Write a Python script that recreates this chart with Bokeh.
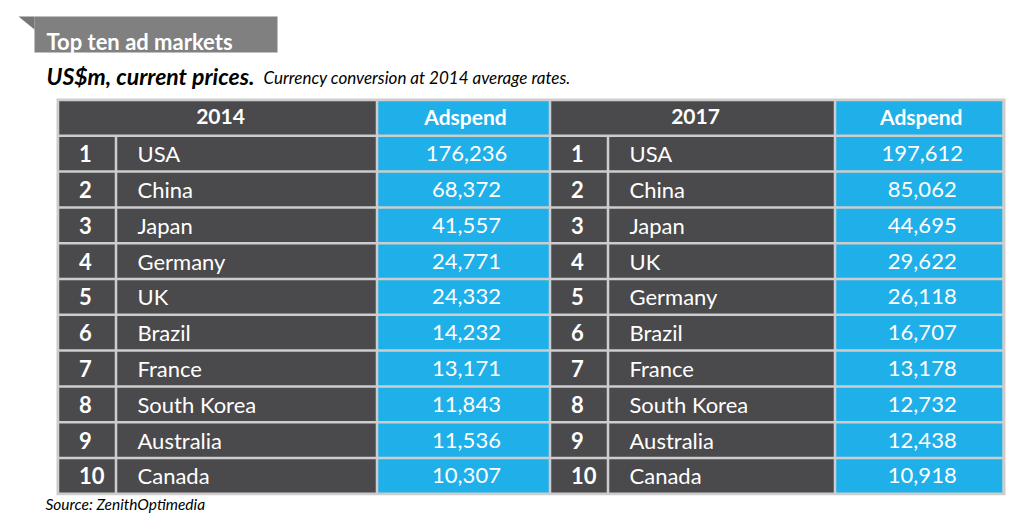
from bokeh.plotting import figure
from bokeh.models import Range1d, ColumnDataSource
from bokeh.core.properties import value
from bokeh.embed import file_html
from bokeh.resources import INLINE

# ---- data ----
title = "Top ten ad markets"
subtitle_bold = "US$m, current prices."
subtitle_note = "Currency conversion at 2014 average rates."
source_note = "Source: ZenithOptimedia"
years = ["2014", "2017"]
value_header = "Adspend"
ranks = [1, 2, 3, 4, 5, 6, 7, 8, 9, 10]
countries_2014 = ["USA", "China", "Japan", "Germany", "UK", "Brazil", "France",
                  "South Korea", "Australia", "Canada"]
adspend_2014 = [176236, 68372, 41557, 24771, 24332, 14232, 13171, 11843, 11536, 10307]
countries_2017 = ["USA", "China", "Japan", "UK", "Germany", "Brazil", "France",
                  "South Korea", "Australia", "Canada"]
adspend_2017 = [197612, 85062, 44695, 29622, 26118, 16707, 13178, 12732, 12438, 10918]

# ---- styling / layout ----
FONT = value("Lato")
DARK = "#4a494b"
BLUE = "#1fafe9"
GRID = "#cdcdcd"
W, H = 1008, 514

p = figure(width=W, height=H, output_backend="svg", toolbar_location=None,
           x_range=Range1d(0, W), y_range=Range1d(H, 0),
           x_axis_location=None, y_axis_location=None, min_border=0)
p.xgrid.visible = False
p.ygrid.visible = False
p.outline_line_color = None
p.background_fill_color = "white"
p.border_fill_color = "white"

# title box with folded corner
p.quad(left=[34], right=[277], top=[16], bottom=[52], fill_color="#808080", line_color=None)
p.patch(x=[18, 34, 34], y=[16, 16, 29], fill_color="#767676", line_color=None)
p.text(x=[46], y=[40.5], text=[title], text_font=FONT, text_font_size=value("22px"),
       text_font_style="bold", text_color="white", text_baseline="middle")
p.text(x=[46], y=[75], text=[subtitle_bold], text_font=FONT, text_font_size=value("23px"),
       text_font_style="bold italic", text_color="black", text_baseline="middle")
p.text(x=[263], y=[77], text=[subtitle_note], text_font=FONT, text_font_size=value("17px"),
       text_font_style="italic", text_color="black", text_baseline="middle")
p.text(x=[45], y=[503], text=[source_note], text_font=FONT, text_font_size=value("15.5px"),
       text_font_style="italic", text_color="black", text_baseline="middle")

# table geometry
top0 = 99.5
row_h = 35.8
n = len(ranks)
table_bottom = top0 + row_h * (n + 1)
# column boundaries per block: rank | country | adspend
blocks = [(57.5, 115.5, 376.5, 549.5), (549.5, 607.5, 834.5, 1003.0)]
g = 1.25  # half gap

# light gray background (gridlines)
p.quad(left=[56], right=[1005], top=[98], bottom=[table_bottom + 1.5],
       fill_color=GRID, line_color=None)

datasets = [(countries_2014, adspend_2014), (countries_2017, adspend_2017)]
for bi, ((x0, x1, x2, x3), (ctry, vals)) in enumerate(zip(blocks, datasets)):
    # header cells
    p.quad(left=[x0 + g], right=[x2 - g], top=[top0 + g], bottom=[top0 + row_h - g],
           fill_color=DARK, line_color=None)
    p.quad(left=[x2 + g], right=[x3 - g], top=[top0 + g], bottom=[top0 + row_h - g],
           fill_color=BLUE, line_color=None)
    hy = top0 + row_h / 2 - 1
    p.text(x=[(x0 + x2) / 2 + 3], y=[hy], text=[years[bi]], text_font=FONT,
           text_font_size=value("21px"), text_font_style="bold", text_color="white",
           text_align="center", text_baseline="middle")
    p.text(x=[(x2 + x3) / 2 + 2], y=[hy], text=[value_header], text_font=FONT,
           text_font_size=value("21px"), text_font_style="bold", text_color="white",
           text_align="center", text_baseline="middle")

    tops = [top0 + row_h * r for r in ranks]
    src = ColumnDataSource(dict(
        top=[t + g for t in tops],
        bottom=[t + row_h - g for t in tops],
        ymid=[t + row_h / 2 for t in tops],
        rank=[str(r) for r in ranks],
        country=ctry,
        val=[f"{v:,}" for v in vals],
    ))
    p.quad(left=x0 + g, right=x1 - g, top="top", bottom="bottom", source=src,
           fill_color=DARK, line_color=None)
    p.quad(left=x1 + g, right=x2 - g, top="top", bottom="bottom", source=src,
           fill_color=DARK, line_color=None)
    p.quad(left=x2 + g, right=x3 - g, top="top", bottom="bottom", source=src,
           fill_color=BLUE, line_color=None)
    p.text(x=x0 + 21, y="ymid", text="rank", source=src, text_font=FONT,
           text_font_size=value("22px"), text_font_style="bold", text_color="white",
           text_baseline="middle")
    p.text(x=x1 + 21.5, y="ymid", text="country", source=src, text_font=FONT,
           text_font_size=value("22px"), text_color="white", text_baseline="middle")
    p.text(x=(x2 + x3) / 2 + 3, y="ymid", text="val", source=src, text_font=FONT,
           text_font_size=value("22px"), text_color="white", text_align="center",
           text_baseline="middle")

open("out.html", "w").write(file_html(p, INLINE))
